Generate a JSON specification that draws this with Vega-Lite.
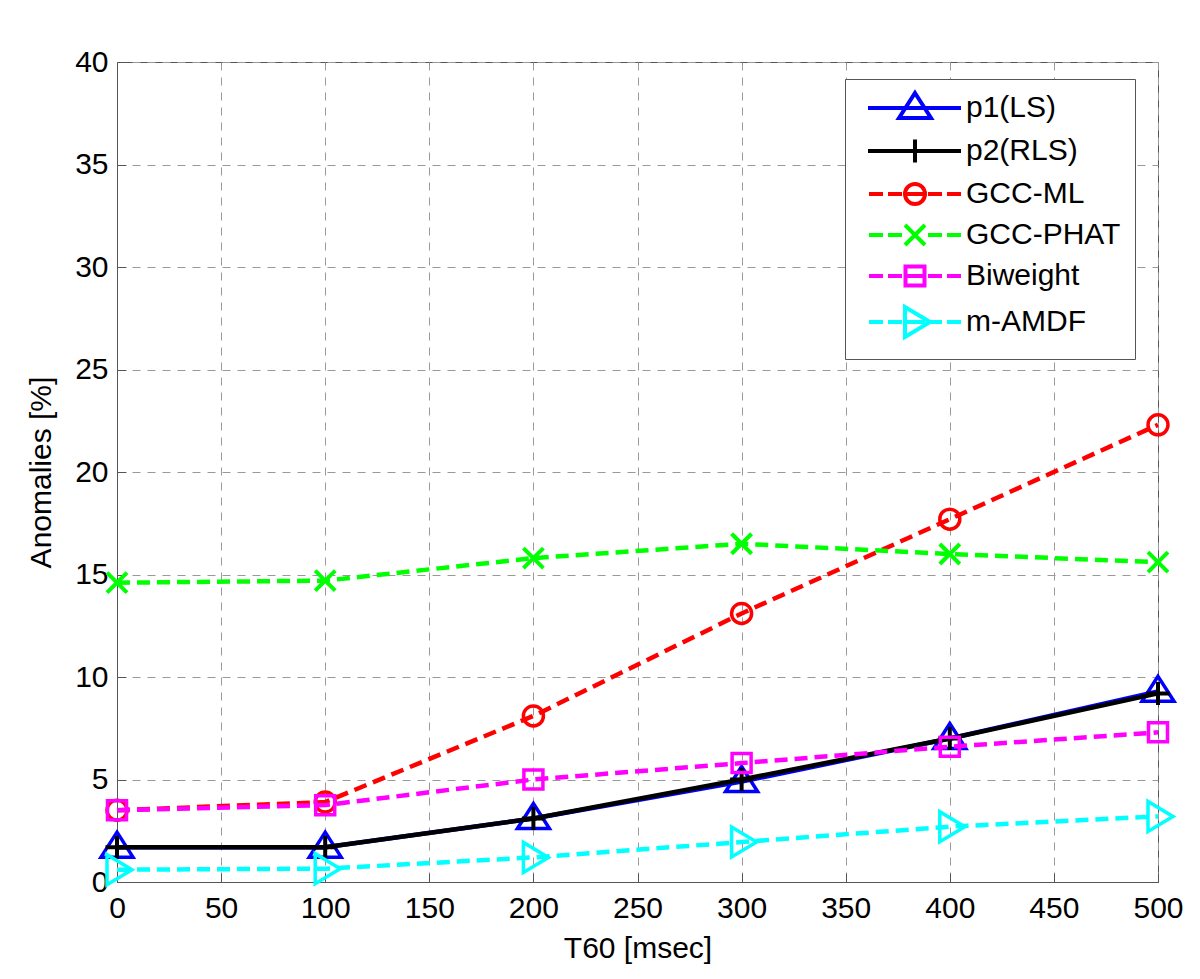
{
  "$schema": "https://vega.github.io/schema/vega-lite/v6.json",
  "width": 1041,
  "height": 820,
  "autosize": {"type": "none"},
  "padding": {"left": 117, "top": 62, "right": 42, "bottom": 97},
  "background": "white",
  "config": {
    "font": "Liberation Sans",
    "view": {"stroke": "#555", "strokeWidth": 1},
    "axis": {
      "labelFont": "Liberation Sans",
      "labelFontSize": 30,
      "labelColor": "black",
      "titleFont": "Liberation Sans",
      "titleFontSize": 30,
      "titleFontWeight": "normal",
      "titleColor": "black",
      "gridColor": "#999",
      "gridDash": [8, 7],
      "gridWidth": 1,
      "gridOpacity": 1,
      "domainColor": "#555",
      "tickColor": "#555",
      "tickSize": -9,
      "labelFlush": false
    }
  },
  "data": {
    "values": [
      {"t": 0, "series": "p1(LS)", "v": 1.7},
      {"t": 100, "series": "p1(LS)", "v": 1.7},
      {"t": 200, "series": "p1(LS)", "v": 3.1},
      {"t": 300, "series": "p1(LS)", "v": 4.9},
      {"t": 400, "series": "p1(LS)", "v": 7.0},
      {"t": 500, "series": "p1(LS)", "v": 9.3},
      {"t": 0, "series": "p2(RLS)", "v": 1.7},
      {"t": 100, "series": "p2(RLS)", "v": 1.7},
      {"t": 200, "series": "p2(RLS)", "v": 3.1},
      {"t": 300, "series": "p2(RLS)", "v": 5.0},
      {"t": 400, "series": "p2(RLS)", "v": 7.0},
      {"t": 500, "series": "p2(RLS)", "v": 9.2},
      {"t": 0, "series": "GCC-ML", "v": 3.5},
      {"t": 100, "series": "GCC-ML", "v": 3.9},
      {"t": 200, "series": "GCC-ML", "v": 8.1},
      {"t": 300, "series": "GCC-ML", "v": 13.1},
      {"t": 400, "series": "GCC-ML", "v": 17.7},
      {"t": 500, "series": "GCC-ML", "v": 22.3},
      {"t": 0, "series": "GCC-PHAT", "v": 14.6},
      {"t": 100, "series": "GCC-PHAT", "v": 14.7},
      {"t": 200, "series": "GCC-PHAT", "v": 15.8},
      {"t": 300, "series": "GCC-PHAT", "v": 16.5},
      {"t": 400, "series": "GCC-PHAT", "v": 16.0},
      {"t": 500, "series": "GCC-PHAT", "v": 15.6},
      {"t": 0, "series": "Biweight", "v": 3.5},
      {"t": 100, "series": "Biweight", "v": 3.75},
      {"t": 200, "series": "Biweight", "v": 5.0},
      {"t": 300, "series": "Biweight", "v": 5.8},
      {"t": 400, "series": "Biweight", "v": 6.6},
      {"t": 500, "series": "Biweight", "v": 7.3},
      {"t": 0, "series": "m-AMDF", "v": 0.6},
      {"t": 100, "series": "m-AMDF", "v": 0.65},
      {"t": 200, "series": "m-AMDF", "v": 1.2},
      {"t": 300, "series": "m-AMDF", "v": 1.95},
      {"t": 400, "series": "m-AMDF", "v": 2.7},
      {"t": 500, "series": "m-AMDF", "v": 3.2}
    ]
  },
  "encoding": {
    "x": {
      "field": "t",
      "type": "quantitative",
      "scale": {"domain": [0, 500], "nice": false, "zero": false},
      "axis": {
        "values": [0, 50, 100, 150, 200, 250, 300, 350, 400, 450, 500],
        "title": "T60 [msec]",
        "labelPadding": 20,
        "titlePadding": 10
      }
    },
    "y": {
      "field": "v",
      "type": "quantitative",
      "scale": {"domain": [0, 40], "nice": false},
      "axis": {
        "values": [0, 5, 10, 15, 20, 25, 30, 35, 40],
        "title": "Anomalies [%]",
        "labelPadding": 18,
        "titlePadding": 18
      }
    },
    "color": {
      "field": "series",
      "type": "nominal",
      "scale": {
        "domain": ["p1(LS)", "p2(RLS)", "GCC-ML", "GCC-PHAT", "Biweight", "m-AMDF"],
        "range": ["#0000ff", "#000000", "#ff0000", "#00ff00", "#ff00ff", "#00ffff"]
      },
      "legend": {
        "title": null,
        "orient": "none",
        "legendX": 728,
        "legendY": 17,
        "padding": 14,
        "symbolSize": 400,
        "symbolStrokeWidth": 4,
        "symbolOpacity": 1,
        "labelFontSize": 30,
        "labelFont": "Liberation Sans",
        "labelColor": "black",
        "symbolOffset": 41,
        "labelOffset": 36,
        "rowPadding": 5,
        "strokeColor": "#555",
        "fillColor": "white",
        "labelLimit": 400
      }
    }
  },
  "layer": [
    {
      "transform": [{"filter": "false"}],
      "mark": {"type": "point", "filled": false, "strokeWidth": 4, "size": 400, "opacity": 1},
      "encoding": {
        "shape": {
          "field": "series",
          "type": "nominal",
          "scale": {
            "domain": ["p1(LS)", "p2(RLS)", "GCC-ML", "GCC-PHAT", "Biweight", "m-AMDF"],
            "range": [
              "M-4.7,0L4.6,0M0,-1.5L1.6,1L-1.6,1Z",
              "M-4.7,0L4.6,0M0,-1.15L0,1.15",
              "M-4.6,0L-3.2,0M-2.7,0L-1.3,0M-1,0L1,0M1.3,0L2.7,0M3.2,0L4.6,0M1,0A1,1,0,1,1,-1,0A1,1,0,1,1,1,0Z",
              "M-4.6,0L-3.2,0M-2.7,0L-1.3,0M1.3,0L2.7,0M3.2,0L4.6,0M-1,-1L1,1M-1,1L1,-1",
              "M-4.6,0L-3.2,0M-2.7,0L-1.3,0M-1,0L1,0M1.3,0L2.7,0M3.2,0L4.6,0M-0.95,-0.95L0.95,-0.95L0.95,0.95L-0.95,0.95Z",
              "M-4.6,0L-3.2,0M-2.7,0L-1.3,0M-1,0L1,0M1.3,0L2.7,0M3.2,0L4.6,0M1.5,0L-1,-1.5L-1,1.5Z"
            ]
          },
          "legend": {"title": null}
        }
      }
    },
    {
      "transform": [{"filter": "datum.series === 'p1(LS)'"}],
      "mark": {"type": "line", "strokeWidth": 4.5, "clip": false,
        "point": {"shape": "M0,-1.5L1.6,1L-1.6,1Z", "filled": false, "size": 400, "strokeWidth": 3.5, "opacity": 1}}
    },
    {
      "transform": [{"filter": "datum.series === 'p2(RLS)'"}],
      "mark": {"type": "line", "strokeWidth": 4.5, "clip": false,
        "point": {"shape": "M-1.15,0L1.15,0M0,-1.15L0,1.15", "filled": false, "size": 400, "strokeWidth": 4, "opacity": 1}}
    },
    {
      "transform": [{"filter": "datum.series === 'GCC-ML'"}],
      "mark": {"type": "line", "strokeWidth": 4.5, "strokeDash": [13, 7], "clip": false,
        "point": {"shape": "M1,0A1,1,0,1,1,-1,0A1,1,0,1,1,1,0Z", "filled": false, "size": 400, "strokeWidth": 3.5, "opacity": 1}}
    },
    {
      "transform": [{"filter": "datum.series === 'GCC-PHAT'"}],
      "mark": {"type": "line", "strokeWidth": 4.5, "strokeDash": [13, 7], "clip": false,
        "point": {"shape": "M-1,-1L1,1M-1,1L1,-1", "filled": false, "size": 400, "strokeWidth": 4, "opacity": 1}}
    },
    {
      "transform": [{"filter": "datum.series === 'Biweight'"}],
      "mark": {"type": "line", "strokeWidth": 4.5, "strokeDash": [13, 7], "clip": false,
        "point": {"shape": "M-0.95,-0.95L0.95,-0.95L0.95,0.95L-0.95,0.95Z", "filled": false, "size": 400, "strokeWidth": 3.5, "opacity": 1}}
    },
    {
      "transform": [{"filter": "datum.series === 'm-AMDF'"}],
      "mark": {"type": "line", "strokeWidth": 4.5, "strokeDash": [13, 7], "clip": false,
        "point": {"shape": "M1.5,0L-1,-1.5L-1,1.5Z", "filled": false, "size": 400, "strokeWidth": 3.5, "opacity": 1}}
    }
  ]
}
